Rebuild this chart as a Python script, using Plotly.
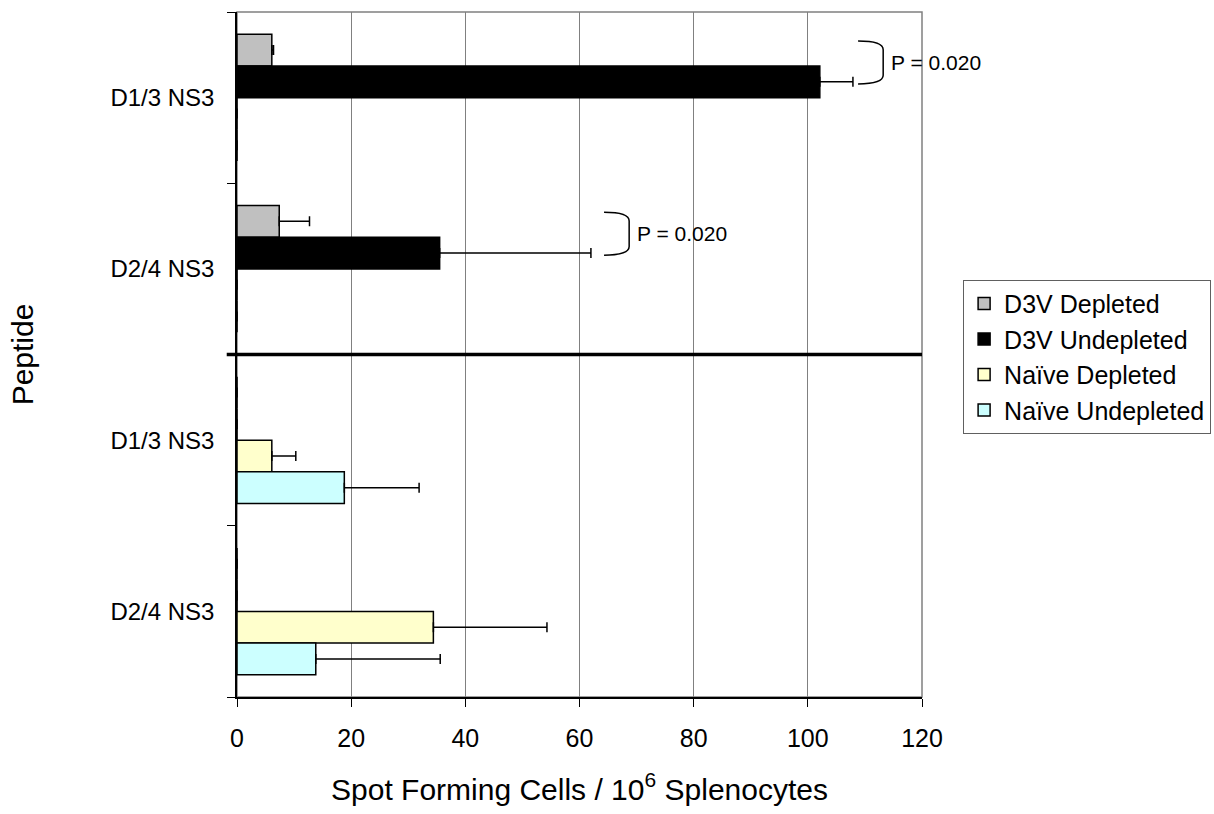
import plotly.graph_objects as go

# ---- data ----
cat_pos = [0, 1, 2, 3]
cat_labels = ["D1/3 NS3", "D2/4 NS3", "D1/3 NS3", "D2/4 NS3"]
series_names = ["D3V Depleted", "D3V Undepleted", "Naïve Depleted", "Naïve Undepleted"]
d3v_depleted = [6.1, 7.4, 0, 0]
d3v_depleted_err = [0.3, 5.3, 0, 0]
d3v_undepleted = [102.1, 35.5, 0, 0]
d3v_undepleted_err = [5.8, 26.5, 0, 0]
naive_depleted = [0, 0, 6.1, 34.4]
naive_depleted_err = [0, 0, 4.2, 19.9]
naive_undepleted = [0, 0, 18.8, 13.8]
naive_undepleted_err = [0, 0, 13.1, 21.8]
x_ticks = [0, 20, 40, 60, 80, 100, 120]

# significance annotations: (category index, bracket left x, label)
sig_cat = [0, 1]
sig_bracket_x = [108.8, 64.3]
sig_text = ["P = 0.020", "P = 0.020"]

colors = ["#C0C0C0", "#000000", "#FFFFCC", "#CCFFFF"]
values = [d3v_depleted, d3v_undepleted, naive_depleted, naive_undepleted]
errors = [d3v_depleted_err, d3v_undepleted_err, naive_depleted_err, naive_undepleted_err]

FONT = "Liberation Sans, Arial, sans-serif"

fig = go.Figure()
for name, vals, errs, col in zip(series_names, values, errors, colors):
    fig.add_trace(go.Bar(
        y=cat_pos, x=vals, orientation="h", name=name,
        marker=dict(color=col, line=dict(color="black", width=1.5)),
        error_x=dict(type="data", array=errs, arrayminus=[0] * len(errs),
                     symmetric=False, color="black", thickness=1.5, width=5),
    ))

shapes = []
# plot frame (gray top/right)
shapes.append(dict(type="rect", xref="paper", yref="paper", x0=0, x1=1, y0=0, y1=1,
                   line=dict(color="#808080", width=1.5), layer="below"))
# thick divider between D3V and naive groups
shapes.append(dict(type="line", xref="paper", yref="y", x0=-0.015, x1=1, y0=1.5, y1=1.5,
                   line=dict(color="black", width=3.5)))
annotations = []
bw = 4.4
for c, bx, t in zip(sig_cat, sig_bracket_x, sig_text):
    y0 = c - 0.33
    y1 = c - 0.08
    d = 0.05
    path = (f"M {bx},{y0} Q {bx+bw},{y0} {bx+bw},{y0+d} "
            f"L {bx+bw},{y1-d} Q {bx+bw},{y1} {bx},{y1}")
    shapes.append(dict(type="path", xref="x", yref="y", path=path,
                       line=dict(color="black", width=1.5)))
    annotations.append(dict(x=bx + bw + 1.0, y=(y0 + y1) / 2, xref="x", yref="y",
                            text=t, showarrow=False, xanchor="left", yanchor="middle",
                            font=dict(family=FONT, size=21, color="black")))

fig.update_layout(
    width=1214, height=814,
    margin=dict(l=237, r=292, t=12, b=117, autoexpand=False),
    paper_bgcolor="white", plot_bgcolor="white",
    barmode="group", bargap=0.26, bargroupgap=0,
    font=dict(family=FONT, color="black"),
    showlegend=True,
    legend=dict(x=1.06, y=0.609, xanchor="left", yanchor="top",
                bgcolor="white", bordercolor="#606060", borderwidth=1,
                font=dict(family=FONT, size=25, color="black"),
                itemwidth=30, traceorder="normal"),
    shapes=shapes,
    annotations=annotations,
    xaxis=dict(range=[0, 120], tickvals=x_ticks, showgrid=True, gridcolor="#808080",
               gridwidth=1, zeroline=False, showline=True, linecolor="black", linewidth=1.5,
               ticks="outside", ticklen=8, tickcolor="black", ticklabelstandoff=10,
               tickfont=dict(family=FONT, size=25),
               title=dict(text="Spot Forming Cells / 10<sup>6</sup> Splenocytes",
                          font=dict(family=FONT, size=30), standoff=28)),
    yaxis=dict(range=[3.5, -0.5], tickvals=cat_pos, ticktext=cat_labels, ticks="",
               showgrid=False, zeroline=False, showline=True, linecolor="black",
               linewidth=1.5, ticklabelstandoff=16,
               tickfont=dict(family=FONT, size=24),
               minor=dict(tickvals=[-0.5, 0.5, 1.5, 2.5, 3.5], ticks="outside",
                          ticklen=8, tickcolor="black", showgrid=False),
               title=dict(text="Peptide", font=dict(family=FONT, size=30), standoff=68)),
)

fig.write_html("out.html")
